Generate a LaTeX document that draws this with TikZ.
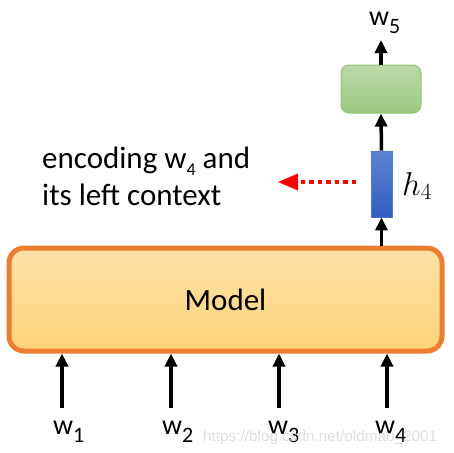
\RequirePackage{fix-cm}
\documentclass[tikz,border=0pt]{standalone}
\usepackage{fontspec}
\setmainfont{Carlito}
\newfontfamily\wmfont{Liberation Sans}
\usetikzlibrary{arrows.meta}
\definecolor{mborder}{HTML}{ED7D31}
\definecolor{mtop}{HTML}{FDE1A6}
\definecolor{mbot}{HTML}{FDD47A}
\definecolor{gtop}{HTML}{B9DAA8}
\definecolor{gbot}{HTML}{9CC982}
\definecolor{gline}{HTML}{93C276}
\definecolor{btop}{HTML}{5D84D2}
\definecolor{bbot}{HTML}{2E5EBF}
\definecolor{bline}{HTML}{5577C8}
\tikzset{
  x=1pt, y=-1pt,
  arr/.style={line width=3.5pt, -{Triangle[length=13pt,width=12pt]}},
  wlab/.style={anchor=base west, inner sep=0pt, font=\fontsize{28}{28}\selectfont},
}
\newcommand{\wsub}[1]{w\raisebox{-8pt}{\fontsize{22}{22}\selectfont #1}}
\begin{document}
\begin{tikzpicture}
\useasboundingbox (0,0) rectangle (453,453);
% Model box
\node[draw=mborder, line width=5pt, rounded corners=15pt, top color=mtop, bottom color=mbot,
      minimum width=433pt, minimum height=103pt, inner sep=0pt,
      font=\fontsize{31}{31}\selectfont] (model) at (225.5,299.5) {Model};
% inputs
\node[wlab] (w1) at (53,434) {\wsub{1}};
\node[wlab] (w2) at (162,434) {\wsub{2}};
\node[wlab] (w3) at (268,434) {\wsub{3}};
\node[wlab] (w4) at (375,434) {\wsub{4}};
\coordinate (i1) at (62,408);
\coordinate (i2) at (171,408);
\coordinate (i3) at (279,408);
\coordinate (i4) at (387,408);
\foreach \i in {1,2,3,4}{
  \draw[arr] (i\i) -- (model.south -| i\i);
}
% h4 bar
\node[draw=bline, line width=0.8pt, top color=btop, bottom color=bbot,
      minimum width=21pt, minimum height=66pt, inner sep=0pt] (bar) at (381.5,184) {};
\draw[arr] (model.north -| bar.south) -- (bar.south);
% green box
\node[draw=gline, line width=1pt, rounded corners=8pt, top color=gtop, bottom color=gbot,
      minimum width=80pt, minimum height=48pt, inner sep=0pt] (gbox) at (381,89) {};
\draw[arr] (bar.north) -- (gbox.south);
\coordinate (o5) at (381,40);
\draw[arr] (gbox.north) -- (o5);
\node[wlab] (w5) at (369,25) {\wsub{5}};
% h4 label
\node[anchor=base west, inner sep=0pt, font=\fontsize{33}{33}\selectfont] (h4) at (402,195) {$h_4$};
% text
\node[anchor=base west, inner sep=0pt, align=left, font=\fontsize{31}{37}\selectfont] (txt) at (42,205)
  {encoding w\raisebox{-7pt}{\fontsize{18}{18}\selectfont 4} and\\its left context};
% red dotted arrow
\coordinate (rs) at (356,182);
\coordinate (re) at (278,182);
\draw[red, line width=4.5pt, dash pattern=on 4.5pt off 4pt] (rs) -- (300,182);
\fill[red] (re) -- (298,173.5) -- (298,190.5) -- cycle;
% watermark
\node[anchor=base west, inner sep=0pt, text=black!13, font=\wmfont\fontsize{15.3}{15.3}\selectfont] (wm) at (203,441) {https://blog.csdn.net/oldmao\_2001};
\end{tikzpicture}
\end{document}
